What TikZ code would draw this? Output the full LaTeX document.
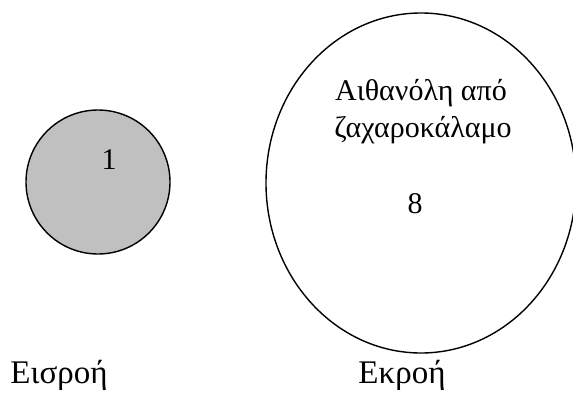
\documentclass[tikz,border=0pt]{standalone}
\usepackage{fontspec}
\setmainfont{Liberation Serif}
\begin{document}
\begin{tikzpicture}[x=1pt,y=-1pt,
  lbl/.style={inner sep=0pt,anchor=base,font=\fontsize{30}{37}\selectfont},
  biglbl/.style={inner sep=0pt,anchor=base,font=\fontsize{33}{38}\selectfont},
  shapeline/.style={draw=black,line width=1.4pt}]
\useasboundingbox (0,0) rectangle (573,396);
\path[shapeline,fill={rgb,255:red,192;green,192;blue,192}] (98,182) circle[radius=72] coordinate (inflow);
\path[shapeline] (421,183) ellipse[x radius=155,y radius=170] coordinate (outflow);
\node[lbl] (one) at (109,169) {1};
\node[lbl] (t1) at (421,100) {Αιθανόλη από};
\node[lbl] (t2) at (423,137) {ζαχαροκάλαμο};
\node[lbl] (eight) at (415,213) {8};
\node[biglbl] (in) at (59,383) {Εισροή};
\node[biglbl] (out) at (402,383) {Εκροή};
\end{tikzpicture}
\end{document}
